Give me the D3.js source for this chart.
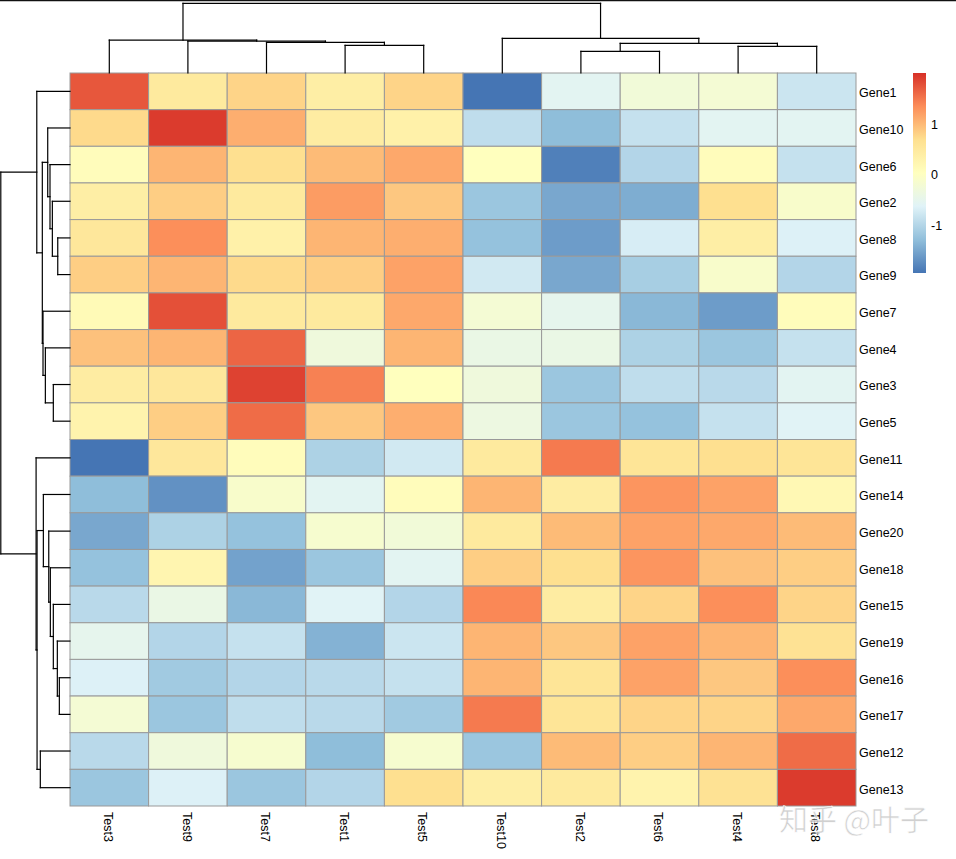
<!DOCTYPE html>
<html>
<head>
<meta charset="utf-8">
<script src="https://cdn.jsdelivr.net/npm/d3@7"></script>
<style>
  body { margin: 0; background: #fff; }
  svg { display: block; font-family: "Liberation Sans", Arial, sans-serif; }
</style>
</head>
<body>
<div id="heatmap"></div>
<script>
// Svg defs
let w = 956,
    h = 859;

// Data defs
let cols = ["Test3", "Test9", "Test7", "Test1", "Test5", "Test10", "Test2", "Test6", "Test4", "Test8"];
let rows = ["Gene1", "Gene10", "Gene6", "Gene2", "Gene8", "Gene9", "Gene7", "Gene4", "Gene3", "Gene5",
            "Gene11", "Gene14", "Gene20", "Gene18", "Gene15", "Gene19", "Gene16", "Gene17", "Gene12", "Gene13"];

// one row per gene, in column order above
let values = [
  [ 1.75,  0.5,   0.8,   0.4,   0.8,  -1.95, -0.55, -0.25, -0.2,  -0.8 ],
  [ 0.75,  1.95,  1.1,   0.45,  0.35, -0.9,  -1.3,  -0.85, -0.55, -0.55],
  [ 0.1,   1.05,  0.7,   1.0,   1.15,  0.05, -1.85, -1.0,   0.1,  -0.85],
  [ 0.4,   0.85,  0.5,   1.25,  0.9,  -1.2,  -1.5,  -1.45,  0.7,  -0.1 ],
  [ 0.55,  1.35,  0.35,  1.05,  1.1,  -1.25, -1.6,  -0.7,   0.4,  -0.65],
  [ 0.85,  1.05,  0.75,  0.85,  1.2,  -0.75, -1.5,  -1.1,  -0.1,  -1.0 ],
  [ 0.15,  1.8,   0.5,   0.5,   1.15, -0.2,  -0.5,  -1.35, -1.6,   0.1 ],
  [ 0.95,  1.05,  1.65, -0.3,   1.05, -0.4,  -0.4,  -1.05, -1.2,  -0.85],
  [ 0.45,  0.55,  1.9,   1.45,  0.05, -0.3,  -1.2,  -0.9,  -0.95, -0.55],
  [ 0.3,   0.85,  1.6,   0.9,   1.1,  -0.35, -1.2,  -1.25, -0.85, -0.6 ],
  [-1.95,  0.55,  0.1,  -1.05, -0.75,  0.5,   1.5,   0.6,   0.7,   0.6 ],
  [-1.3,  -1.7,  -0.1,  -0.55,  0.1,   1.05,  0.45,  1.3,   1.2,   0.2 ],
  [-1.5,  -1.05, -1.25, -0.15, -0.25,  0.5,   1.0,   1.2,   1.15,  1.0 ],
  [-1.25,  0.25, -1.55, -1.2,  -0.55,  0.85,  0.7,   1.3,   0.95,  0.85],
  [-0.95, -0.4,  -1.35, -0.6,  -1.0,   1.4,   0.45,  0.8,   1.35,  0.8 ],
  [-0.5,  -1.0,  -0.85, -1.4,  -0.8,   1.05,  0.9,   1.2,   1.05,  0.65],
  [-0.65, -1.15, -1.0,  -0.95, -0.85,  1.05,  0.6,   1.2,   0.9,   1.35],
  [-0.2,  -1.2,  -0.9,  -0.95, -1.15,  1.5,   0.6,   0.8,   0.8,   1.15],
  [-0.95, -0.3,  -0.15, -1.3,  -0.15, -1.2,   1.0,   0.85,  1.05,  1.6 ],
  [-1.2,  -0.65, -1.2,  -1.0,   0.7,   0.4,   0.5,   0.3,   0.65,  1.95]
];

// dendrograms: [height, left, right], leaves are names; heights relative to root
let colTree = [1.0,
  [0.471, "Test3", [0.457, "Test9", [0.439, "Test7", [0.396, "Test1", "Test5"]]]],
  [0.496, "Test10", [0.424, [0.31, "Test2", "Test6"], [0.381, "Test4", "Test8"]]]
];
let rowTree = [1.0,
  [0.48, "Gene1", [0.40,
    [0.322, "Gene10", [0.289, "Gene6", [0.255, "Gene2", [0.177, "Gene8", "Gene9"]]]],
    [0.39, "Gene7", [0.356, "Gene4", [0.241, "Gene3", "Gene5"]]]
  ]],
  [0.49, "Gene11", [0.476,
    [0.385, "Gene14", [0.307, "Gene20", [0.284, "Gene18", [0.241, "Gene15", [0.183, "Gene19", [0.154, "Gene16", "Gene17"]]]]]],
    [0.429, "Gene12", "Gene13"]
  ]]
];

let palette = ["#4575B4", "#91BFDB", "#E0F3F8", "#FFFFBF", "#FEE090", "#FC8D59", "#D73027"];
let valueRange = [-1.95, 2.03];
let legendTicks = [-1, 0, 1];

// Layout
let x0 = 70, x1 = 856, y0 = 73, y1 = 806;

let svg = d3.select("#heatmap")
  .append("svg")
  .attr("width", w)
  .attr("height", h)
  .attr("viewBox", [0, 0, w, h]);

let x = d3.scaleBand().domain(cols).range([x0, x1]);
let y = d3.scaleBand().domain(rows).range([y0, y1]);

let color = d3.scaleLinear()
  .domain(d3.range(palette.length).map(i => valueRange[0] + i * (valueRange[1] - valueRange[0]) / (palette.length - 1)))
  .range(palette)
  .clamp(true);

// top border line
svg.append("line")
  .attr("x1", 0).attr("x2", w)
  .attr("y1", 0.5).attr("y2", 0.5)
  .attr("stroke", "#111")
  .attr("stroke-width", 1.5);

// Cells
let cells = [];
values.forEach((r, i) => r.forEach((v, j) => cells.push({ row: rows[i], col: cols[j], v: v })));

svg.append("g")
  .selectAll("rect")
  .data(cells)
  .join("rect")
  .attr("x", d => x(d.col))
  .attr("y", d => y(d.row))
  .attr("width", x.bandwidth())
  .attr("height", y.bandwidth())
  .attr("fill", d => color(d.v))
  .attr("stroke", "#999")
  .attr("stroke-width", 1);

// Dendrograms
function drawTree(tree, leafPos, hScale, vertical) {
  let root = d3.hierarchy(tree, d => Array.isArray(d) ? d.slice(1) : null);
  root.eachAfter(n => {
    if (n.children) {
      n.p = d3.mean(n.children, c => c.p);
      n.hh = hScale(n.data[0]);
    } else {
      n.p = leafPos(n.data);
      n.hh = hScale(0);
    }
  });
  let segs = [];
  root.each(n => {
    if (!n.children) return;
    let [a, b] = n.children;
    segs.push([a.p, n.hh, b.p, n.hh]);
    n.children.forEach(c => segs.push([c.p, c.hh, c.p, n.hh]));
  });
  svg.append("g")
    .selectAll("line")
    .data(segs)
    .join("line")
    .attr("x1", d => vertical ? d[0] : d[1])
    .attr("y1", d => vertical ? d[1] : d[0])
    .attr("x2", d => vertical ? d[2] : d[3])
    .attr("y2", d => vertical ? d[3] : d[2])
    .attr("stroke", "#000")
    .attr("stroke-width", 1.2)
    .attr("stroke-linecap", "square");
}

drawTree(colTree, n => x(n) + x.bandwidth() / 2, d3.scaleLinear([0, 1], [y0, 3.3]), true);
drawTree(rowTree, n => y(n) + y.bandwidth() / 2, d3.scaleLinear([0, 1], [x0, 0.8]), false);

// Row labels
svg.append("g")
  .selectAll("text")
  .data(rows)
  .join("text")
  .attr("x", x1 + 3)
  .attr("y", d => y(d) + y.bandwidth() / 2 + 1.5)
  .attr("dy", "0.35em")
  .attr("font-size", 12.5)
  .attr("fill", "#000")
  .text(d => d);

// Column labels
svg.append("g")
  .selectAll("text")
  .data(cols)
  .join("text")
  .attr("transform", d => `translate(${x(d) + x.bandwidth() / 2 - 1},${y1 + 6}) rotate(90)`)
  .attr("dy", "0.35em")
  .attr("font-size", 12.5)
  .attr("fill", "#000")
  .text(d => d);

// Legend
let ly = d3.scaleLinear(valueRange, [273, 73]);
let grad = svg.append("defs").append("linearGradient")
  .attr("id", "lg")
  .attr("x1", 0).attr("y1", 1).attr("x2", 0).attr("y2", 0);
grad.selectAll("stop")
  .data(color.domain())
  .join("stop")
  .attr("offset", d => (d - valueRange[0]) / (valueRange[1] - valueRange[0]))
  .attr("stop-color", d => color(d));

svg.append("rect")
  .attr("x", 913)
  .attr("y", ly(valueRange[1]))
  .attr("width", 13)
  .attr("height", ly(valueRange[0]) - ly(valueRange[1]))
  .attr("fill", "url(#lg)");

svg.append("g")
  .selectAll("text")
  .data(legendTicks)
  .join("text")
  .attr("x", 931)
  .attr("y", d => ly(d))
  .attr("dy", "0.35em")
  .attr("font-size", 12.5)
  .attr("fill", "#000")
  .text(d => d);

// Watermark
svg.append("text")
  .attr("x", 779)
  .attr("y", 831)
  .attr("font-family", "'Noto Sans CJK SC', sans-serif")
  .attr("font-size", 29)
  .attr("fill", "#c8c8c8")
  .attr("fill-opacity", 0.85)
  .attr("stroke", "#fff")
  .attr("stroke-width", 0.6)
  .text("知乎 @叶子");
</script>
</body>
</html>
